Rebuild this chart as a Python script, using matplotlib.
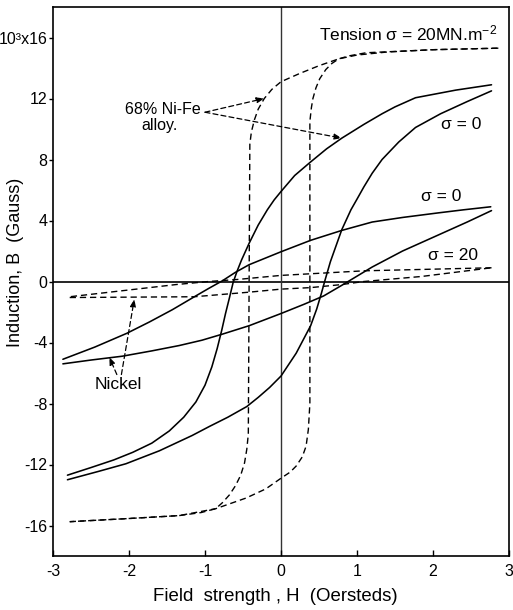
import matplotlib
matplotlib.use("Agg")
import matplotlib.pyplot as plt

plt.rcParams['font.family'] = ['Liberation Sans', 'DejaVu Sans']
plt.rcParams['mathtext.fontset'] = 'custom'
plt.rcParams['mathtext.rm'] = 'Liberation Sans'
plt.rcParams['mathtext.it'] = 'Liberation Sans:italic'
plt.rcParams['mathtext.bf'] = 'Liberation Sans:bold'
plt.rcParams['axes.unicode_minus'] = False

# ---- data (H in Oersteds, B in 10^3 Gauss) ----
# 68% Ni-Fe alloy under tension sigma = 20 MN m^-2 (dashed, square loop)
nife_t_desc_H = [2.86, 2.0, 1.4, 1.0, 0.76, 0.5, 0.25, 0.0, -0.12, -0.22, -0.3, -0.35, -0.39, -0.41,
                 -0.43, -0.45, -0.48, -0.53, -0.6, -0.68, -0.77, -0.86, -1.05, -1.34, -2.03, -2.78]
nife_t_desc_B = [15.3, 15.2, 15.05, 14.85, 14.6, 14.15, 13.65, 13.1, 12.6, 12.0, 11.3, 10.6, 9.8, 9.0,
                 -10.0, -11.0, -11.9, -12.7, -13.4, -14.0, -14.5, -14.9, -15.15, -15.35, -15.55, -15.75]
nife_t_asc_H = [-2.78, -2.03, -1.34, -0.86, -0.46, -0.2, 0.0, 0.12, 0.2, 0.28, 0.33, 0.36, 0.38,
                0.38, 0.40, 0.42, 0.46, 0.51, 0.59, 0.67, 0.76, 0.9, 1.12, 2.0, 2.86]
nife_t_asc_B = [-15.75, -15.55, -15.35, -14.9, -14.2, -13.6, -12.9, -12.5, -12.1, -11.5, -10.8, -9.7, -8.0,
                10.5, 11.4, 12.0, 12.7, 13.3, 13.9, 14.3, 14.6, 14.8, 15.0, 15.2, 15.3]

# 68% Ni-Fe alloy, sigma = 0 (solid)
nife_0_desc_H = [2.77, 2.3, 1.77, 1.5, 1.33, 1.09, 0.8, 0.6, 0.38, 0.18, 0.0, -0.09, -0.18, -0.3, -0.42,
                 -0.52, -0.58, -0.63, -0.68, -0.73, -0.78, -0.84, -0.91, -1.0, -1.12, -1.28, -1.47,
                 -1.7, -1.95, -2.2, -2.5, -2.81]
nife_0_desc_B = [12.9, 12.55, 12.05, 11.45, 11.0, 10.3, 9.4, 8.7, 7.8, 6.95, 5.9, 5.35, 4.7, 3.7, 2.5,
                 1.4, 0.65, -0.07, -1.1, -2.1, -3.2, -4.4, -5.6, -6.8, -7.9, -8.9, -9.8,
                 -10.6, -11.2, -11.7, -12.2, -12.7]
nife_0_asc_H = [-2.81, -2.4, -2.04, -1.6, -1.17, -0.94, -0.7, -0.45, -0.3, -0.15, 0.0, 0.2, 0.39, 0.47,
                0.53, 0.58, 0.65, 0.8, 0.92, 1.0, 1.09, 1.2, 1.33, 1.55, 1.77, 2.1, 2.45, 2.77]
nife_0_asc_B = [-13.0, -12.45, -11.95, -11.1, -10.1, -9.5, -8.9, -8.2, -7.6, -6.95, -6.2, -4.7, -2.9, -1.8,
                -0.8, 0.1, 1.3, 3.4, 4.7, 5.4, 6.2, 7.1, 8.0, 9.15, 10.1, 11.0, 11.8, 12.5]

# Nickel, sigma = 0 (solid)
ni_0_desc_H = [2.76, 2.4, 2.07, 1.6, 1.2, 0.8, 0.39, 0.0, -0.42, -0.6, -0.77, -0.95, -1.14, -1.43,
               -1.73, -2.03, -2.45, -2.87]
ni_0_desc_B = [4.9, 4.7, 4.5, 4.2, 3.9, 3.35, 2.7, 1.95, 1.1, 0.6, 0.05, -0.45, -1.0, -1.85,
               -2.65, -3.4, -4.3, -5.1]
ni_0_asc_H = [-2.87, -2.5, -2.09, -1.7, -1.34, -1.04, -0.77, -0.42, 0.0, 0.3, 0.56, 0.8, 1.2, 1.6,
              2.07, 2.45, 2.77]
ni_0_asc_B = [-5.4, -5.15, -4.9, -4.55, -4.2, -3.85, -3.45, -2.9, -2.1, -1.5, -0.95, -0.25, 0.95, 2.0,
              3.05, 3.9, 4.65]

# Nickel, sigma = 20 (dashed)
ni_20_desc_H = [2.77, 1.09, 0.0, -0.58, -0.95, -1.38, -2.78]
ni_20_desc_B = [0.9, 0.7, 0.4, 0.13, 0.0, -0.2, -1.0]
ni_20_asc_H = [-2.78, -1.14, -0.42, 0.0, 0.39, 0.8, 1.09, 1.85, 2.77]
ni_20_asc_B = [-1.05, -1.0, -0.7, -0.5, -0.4, -0.2, 0.0, 0.33, 0.9]

x_ticks = [-3, -2, -1, 0, 1, 2, 3]
x_ticklabels = ['-3', '-2', '-1', '0', '1', '2', '3']
y_ticks = [-16, -12, -8, -4, 0, 4, 8, 12, 16]
y_ticklabels = ['-16', '-12', '-8', '-4', '0', '4', '8', '12', '10³x16']

# ---- figure ----
fig = plt.figure(figsize=(5.13, 6.10), dpi=100)
ax = fig.add_axes([53/513, 1 - 556/610, (509 - 53)/513, (556 - 7)/610])

ax.set_xlim(-3, 3)
ax.set_ylim(-18, 18)

ax.axhline(0, color='black', lw=1.2, zorder=1)
ax.axvline(0, color='#333333', lw=1.0, zorder=1)

dash = (0, (4.5, 2.8))
solid_kw = dict(color='black', lw=1.15, solid_joinstyle='round', solid_capstyle='round')
dash_kw = dict(color='black', lw=1.0, linestyle=dash)

ax.plot(nife_t_desc_H, nife_t_desc_B, **dash_kw)
ax.plot(nife_t_asc_H, nife_t_asc_B, **dash_kw)
ax.plot(nife_0_desc_H, nife_0_desc_B, **solid_kw)
ax.plot(nife_0_asc_H, nife_0_asc_B, **solid_kw)
ax.plot(ni_0_desc_H, ni_0_desc_B, **solid_kw)
ax.plot(ni_0_asc_H, ni_0_asc_B, **solid_kw)
ax.plot(ni_20_desc_H, ni_20_desc_B, **dash_kw)
ax.plot(ni_20_asc_H, ni_20_asc_B, **dash_kw)

# ---- text ----
ax.text(0.5, 16.25, 'Tension σ = 20MN.m$^{-2}$', fontsize=12.5, ha='left', va='center')
ax.text(2.11, 10.3, 'σ = 0', fontsize=12.5, ha='left', va='center')
ax.text(1.84, 5.6, 'σ = 0', fontsize=12.5, ha='left', va='center')
ax.text(1.94, 1.7, 'σ = 20', fontsize=12.5, ha='left', va='center')
ax.text(-1.05, 11.3, '68% Ni-Fe', fontsize=11.5, ha='right', va='center')
ax.text(-1.84, 10.25, 'alloy.', fontsize=11.5, ha='left', va='center')
ax.text(-2.45, -6.75, 'Nickel', fontsize=12.5, ha='left', va='center')

arrow_kw = dict(arrowstyle='-|>,head_length=0.45,head_width=0.17', color='black',
                lw=0.9, linestyle=(0, (4, 2.5)), shrinkA=0, shrinkB=0)
ax.annotate('', xy=(-0.22, 12.0), xytext=(-1.0, 11.1), arrowprops=arrow_kw)
ax.annotate('', xy=(0.8, 9.4), xytext=(-1.0, 11.1), arrowprops=arrow_kw)
ax.annotate('', xy=(-1.93, -1.15), xytext=(-2.1, -6.1), arrowprops=arrow_kw)
ax.annotate('', xy=(-2.26, -4.95), xytext=(-2.16, -6.1), arrowprops=arrow_kw)

# ---- axes styling ----
ax.set_xticks(x_ticks)
ax.set_xticklabels(x_ticklabels, fontsize=11.5)
ax.set_yticks(y_ticks)
ax.set_yticklabels(y_ticklabels, fontsize=11.5)
ax.tick_params(axis='x', direction='in', length=4, width=1, pad=6)
ax.tick_params(axis='y', direction='out', length=3, width=1, pad=0.8)
for s in ax.spines.values():
    s.set_linewidth(1.2)

ax.set_xlabel('Field  strength , H  (Oersteds)', fontsize=13.4, va='center')
ax.set_ylabel('Induction, B  (Gauss)', fontsize=13, va='center')
ax.xaxis.set_label_coords(0.488, -0.0745)
ax.yaxis.set_label_coords(-0.083, 0.535)

fig.savefig('out.png', dpi=100)
